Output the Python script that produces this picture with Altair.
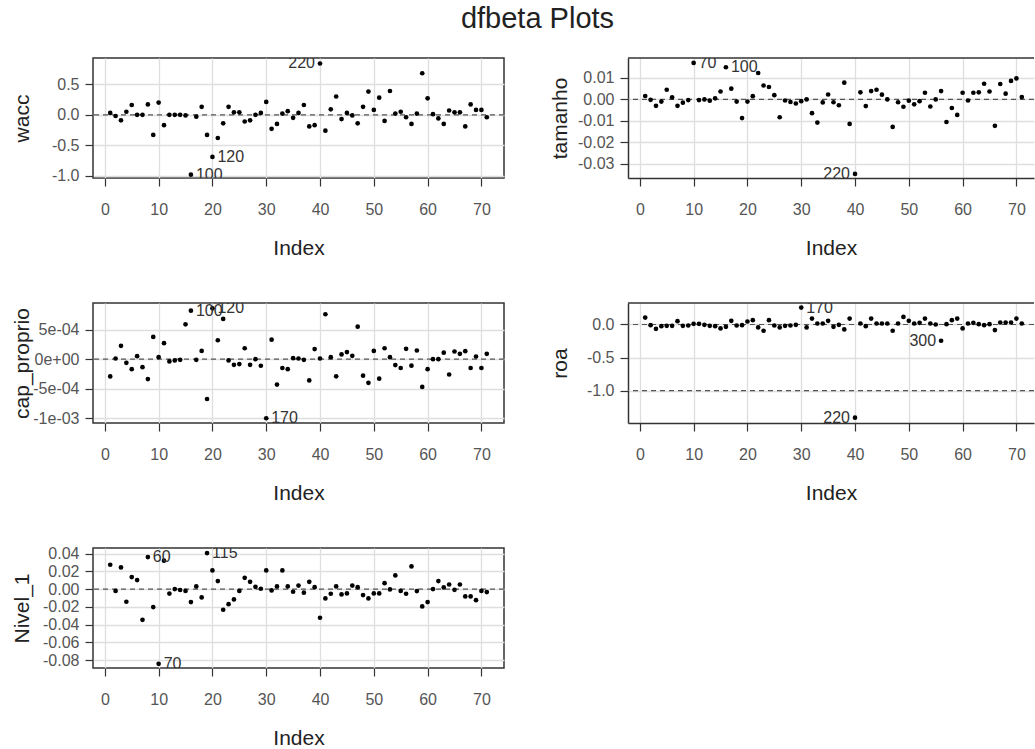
import json
import altair as alt
import pandas as pd

INDEX = list(range(1, 72))

wacc = [0.03, -0.02, -0.09, 0.05, 0.16, 0.0, 0.0, 0.17, -0.33, 0.20,
        -0.17, 0.0, 0.0, 0.0, -0.01, -0.98, -0.03, 0.13, -0.33, -0.69,
        -0.38, -0.14, 0.13, 0.04, 0.04, -0.11, -0.09, 0.0, 0.03, 0.21,
        -0.23, -0.15, 0.02, 0.06, -0.05, 0.03, 0.16, -0.19, -0.17, 0.84,
        -0.26, 0.09, 0.30, -0.07, 0.03, -0.01, -0.14, 0.13, 0.38, 0.08,
        0.28, -0.10, 0.39, 0.02, 0.05, -0.04, -0.15, 0.02, 0.68, 0.27,
        0.01, -0.06, -0.15, 0.07, 0.04, 0.04, -0.19, 0.17, 0.08, 0.08, -0.04]

tamanho = [0.0016, -0.0002, -0.003, -0.001, 0.0045, 0.001, -0.003, -0.0015, -0.0003, 0.017,
           -0.0003, 0.0, -0.0006, 0.0005, 0.0037, 0.015, 0.005, -0.001, -0.0087, -0.001,
           0.0015, 0.0123, 0.0065, 0.0058, 0.002, -0.0083, -0.0005, -0.0012, -0.0019, -0.0008,
           0.0, -0.0064, -0.0108, -0.0014, 0.0023, -0.0013, -0.0027, 0.0078, -0.0114, -0.0347,
           0.0033, -0.0031, 0.0039, 0.0045, 0.0022, 0.0, -0.0128, -0.0013, -0.0034, -0.0006,
           -0.0023, -0.0008, 0.0031, -0.0033, 0.0, 0.0039, -0.0105, -0.004, -0.0072, 0.0031,
           -0.0005, 0.0031, 0.0033, 0.0073, 0.0037, -0.0123, 0.0072, 0.0027, 0.0086, 0.0098, 0.0011]

cap_proprio = [-2.92e-4, 0.11e-4, 2.25e-4, -0.62e-4, -1.69e-4, 0.51e-4, -1.35e-4, -3.37e-4, 3.76e-4, 0.34e-4,
               2.7e-4, -0.39e-4, -0.22e-4, -0.11e-4, 5.9e-4, 8.2e-4, -0.11e-4, 1.4e-4, -6.74e-4, 8.6e-4,
               3.2e-4, 6.8e-4, -0.22e-4, -0.96e-4, -0.84e-4, 1.85e-4, -0.96e-4, 0.0, -1.12e-4, -10.0e-4,
               3.3e-4, -4.3e-4, -1.5e-4, -1.7e-4, 0.17e-4, 0.11e-4, -0.11e-4, -3.6e-4, 1.7e-4, 0.11e-4,
               7.6e-4, 0.34e-4, -2.9e-4, 0.8e-4, 1.2e-4, 0.56e-4, 5.5e-4, -2.8e-4, -4.0e-4, 1.4e-4,
               -3.3e-4, 1.85e-4, 0.34e-4, -1.0e-4, -1.5e-4, 1.74e-4, -1.1e-4, 1.46e-4, -4.7e-4, -1.7e-4,
               0.0, 0.0, 1.1e-4, -2.6e-4, 1.3e-4, 0.9e-4, 1.35e-4, -1.5e-4, 0.45e-4, -1.5e-4, 0.9e-4]

roa = [0.105, -0.01, -0.065, -0.025, -0.02, -0.02, 0.05, -0.02, -0.015, 0.01,
       0.01, -0.005, -0.02, -0.025, -0.06, -0.035, 0.055, -0.015, -0.01, 0.045,
       0.065, -0.045, -0.095, 0.065, -0.015, -0.045, -0.02, -0.015, -0.005, 0.256,
       -0.045, 0.09, 0.015, 0.015, 0.055, -0.035, -0.005, -0.075, 0.09, -1.41,
       0.015, -0.025, 0.09, 0.015, 0.015, 0.015, -0.095, 0.015, 0.115, 0.055,
       0.015, 0.025, 0.09, 0.015, 0.0, -0.246, 0.005, 0.065, 0.09, -0.06,
       0.015, 0.025, 0.005, -0.01, 0.005, -0.085, 0.03, 0.03, 0.03, 0.09, 0.015]

nivel_1 = [0.0274, -0.002, 0.0244, -0.0142, 0.0135, 0.0101, -0.0345, 0.036, -0.0202, -0.084,
           0.032, -0.005, 0.0, -0.001, -0.002, -0.0146, 0.003, -0.0094, 0.0405, 0.021,
           0.009, -0.0232, -0.0169, -0.0116, -0.002, 0.0127, 0.0082, 0.0026, 0.0004, 0.021,
           -0.0015, 0.003, 0.021, 0.003, -0.003, 0.004, -0.004, 0.0082, 0.0022, -0.0322,
           -0.0105, -0.0052, 0.003, -0.006, -0.0049, 0.004, 0.0022, -0.0067, -0.0105, -0.0049,
           -0.0049, 0.0067, -0.0004, 0.0154, -0.002, -0.0052, 0.0255, -0.0022, -0.0195, -0.0146,
           0.0, 0.009, 0.0019, 0.0052, -0.0008, 0.0052, -0.0082, -0.0082, -0.0124, -0.002, -0.0034]

# y axis ticks and their labels
wacc_ticks = [-1.0, -0.5, 0.0, 0.5]
wacc_labels = ["-1.0", "-0.5", "0.0", "0.5"]
tam_ticks = [-0.03, -0.02, -0.01, 0.0, 0.01]
tam_labels = ["-0.03", "-0.02", "-0.01", "0.00", "0.01"]
cap_ticks = [-1e-3, -5e-4, 0.0, 5e-4]
cap_labels = ["-1e-03", "-5e-04", "0e+00", "5e-04"]
roa_ticks = [-1.0, -0.5, 0.0]
roa_labels = ["-1.0", "-0.5", "0.0"]
niv_ticks = [-0.08, -0.06, -0.04, -0.02, 0.0, 0.02, 0.04]
niv_labels = ["-0.08", "-0.06", "-0.04", "-0.02", "0.00", "0.02", "0.04"]

x_ticks = [0, 10, 20, 30, 40, 50, 60, 70]

# point labels: (index, text, side)
wacc_pts = [(40, "220", "left"), (16, "100", "right"), (20, "120", "right")]
tam_pts = [(10, "70", "right"), (16, "100", "right"), (40, "220", "left")]
cap_pts = [(16, "100", "right"), (20, "120", "right"), (30, "170", "right")]
roa_pts = [(30, "170", "right"), (56, "300", "left"), (40, "220", "left")]
niv_pts = [(8, "60", "right"), (10, "70", "right"), (19, "115", "right")]

FONT = "Liberation Sans"
PW, PW_R, PH = 411, 406, 120
XMIN, XMAX = -2.2, 74.2
PX = PW / (XMAX - XMIN)
FRAME = "#333"


def panel(name, vals, ydom, ticks, labels, hlines, pts, width, title_x, open_right=False):
    xmax = XMIN + width / PX
    df = pd.DataFrame({"Index": INDEX, "v": vals})
    expr = f"{json.dumps(labels)}[indexof({json.dumps(ticks)}, datum.value)]"
    xscale = alt.Scale(domain=[XMIN, xmax], nice=False, zero=False)
    x = alt.X("Index:Q", scale=xscale,
              axis=alt.Axis(values=x_ticks, format="d", title="Index", titleY=70,
                            titleBaseline="middle", labelPadding=15,
                            domain=open_right, domainColor=FRAME, domainWidth=1.5))
    y = alt.Y("v:Q", scale=alt.Scale(domain=ydom, nice=False, zero=False),
              axis=alt.Axis(values=ticks, labelExpr=expr, title=name, titleX=title_x,
                            titleY=PH / 2, titleAngle=270, titleAlign="center",
                            titleBaseline="alphabetic", labelPadding=6,
                            domain=open_right, domainColor=FRAME, domainWidth=1.5))
    rules = alt.Chart(pd.DataFrame({"v": hlines})).mark_rule(
        color="#555", strokeDash=[5, 4], strokeWidth=1.2).encode(y=y)
    pts_layer = alt.Chart(df).mark_circle(size=22, color="black", opacity=1).encode(x=x, y=y)
    layers = [rules, pts_layer]
    for side in ("left", "right"):
        sel = [p for p in pts if p[2] == side]
        if not sel:
            continue
        ldf = pd.DataFrame({"Index": [p[0] for p in sel],
                            "v": [vals[p[0] - 1] for p in sel],
                            "t": [p[1] for p in sel]})
        layers.append(alt.Chart(ldf).mark_text(
            align="right" if side == "left" else "left",
            dx=-5 if side == "left" else 5, baseline="middle",
            font=FONT, fontSize=16, color="#333", clip=True).encode(x=x, y=y, text="t:N"))
    if open_right:
        # top edge of the frame (right edge falls outside the picture)
        top = alt.Chart(pd.DataFrame({"v": [ydom[1]]})).mark_rule(
            color=FRAME, strokeWidth=1.5).encode(y=y)
        layers.append(top)
        return alt.layer(*layers).properties(
            width=width, height=PH, view=alt.ViewBackground(stroke=None))
    return alt.layer(*layers).properties(width=width, height=PH)


p1 = panel("wacc", wacc, [-1.035, 0.93], wacc_ticks, wacc_labels, [0.0], wacc_pts, PW, -65)
p2 = panel("tamanho", tamanho, [-0.0366, 0.0193], tam_ticks, tam_labels, [0.0], tam_pts, PW_R, -62, True)
p3 = panel("cap_proprio", cap_proprio, [-1.08e-3, 9.5e-4], cap_ticks, cap_labels, [0.0], cap_pts, PW, -65)
p4 = panel("roa", roa, [-1.49, 0.325], roa_ticks, roa_labels, [0.0, -1.0], roa_pts, PW_R, -62, True)
p5 = panel("Nivel_1", nivel_1, [-0.0887, 0.0462], niv_ticks, niv_labels, [0.0], niv_pts, PW, -65)

chart = alt.concat(p1, p2, p3, p4, p5, columns=2,
                   spacing={"row": 125, "column": 124}, bounds="flush").properties(
    title=alt.TitleParams("dfbeta Plots", font=FONT, fontSize=29, fontWeight="normal",
                          color="#222", anchor="middle", offset=23, dx=15),
    padding={"left": 10, "top": 5, "right": 0, "bottom": 0},
    background="white",
).configure_view(
    stroke=FRAME, strokeWidth=1.5
).configure_axis(
    labelFont=FONT, labelFontSize=16, labelColor="#555",
    titleFont=FONT, titleFontSize=21, titleFontWeight="normal", titleColor="#222",
    tickColor="#333", tickSize=8, tickWidth=1.2, domain=False,
    grid=True, gridColor="#dedede", gridWidth=1.3
)

chart.save("out.html", embed_options={"renderer": "svg", "actions": False})
